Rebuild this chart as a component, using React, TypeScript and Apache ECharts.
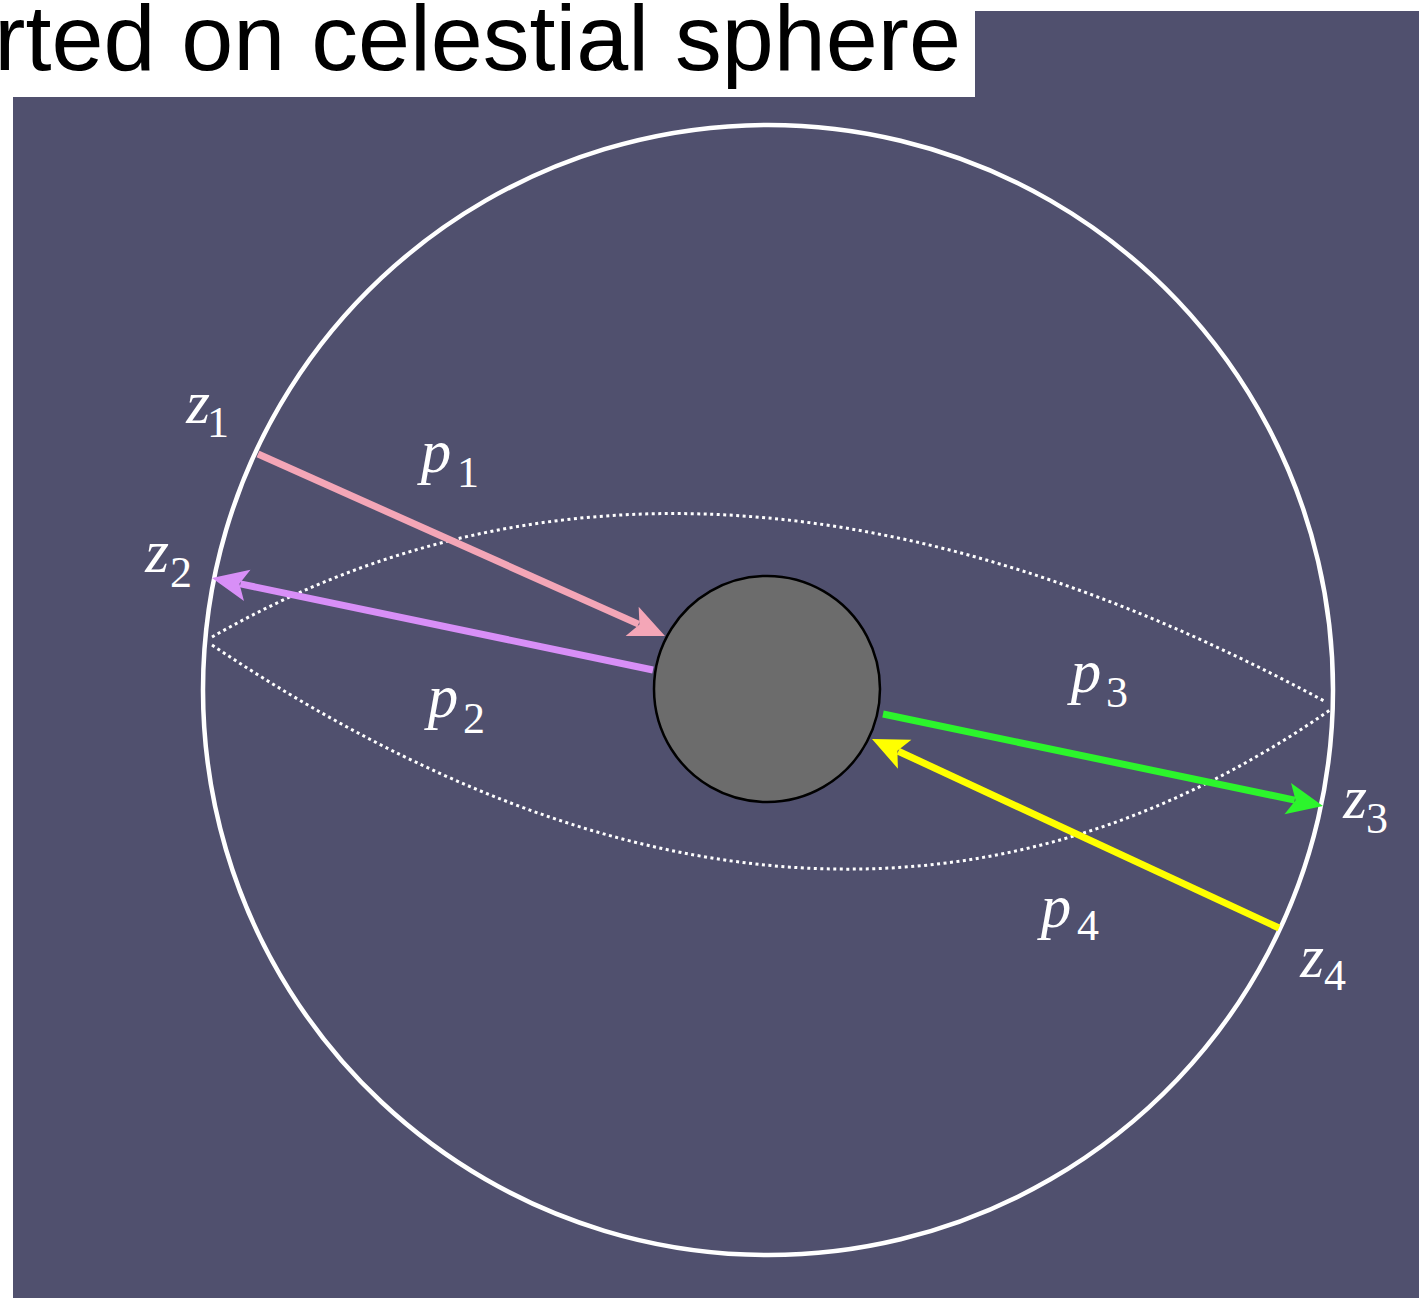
import React, { useEffect, useRef } from "react";
import * as echarts from "echarts";

const W = 1419;
const H = 1298;

// Geometry of the diagram, in image units (x right, y down)
const circleCenters = [[768, 690], [767, 689]]; // celestial sphere, Earth
const circleRadii = [565, 113];
const circleFills = ["none", "#6C6C6C"];
const circleStrokes = ["#FFFFFF", "#000000"];
const circleWidths = [4.5, 2.5];

// Dotted lens (quadratic curves): start, control, end
const arcStarts = [[212, 637], [212, 645]];
const arcControls = [[695, 361], [829, 1058]];
const arcEnds = [[1326, 702], [1330, 710]];

// Photon arrows p1..p4 (start -> tip)
const arrowStarts = [[258, 454], [653, 670], [883, 714], [1279, 928]];
const arrowTips = [[665, 636], [212, 578], [1323, 806], [872, 739]];
const arrowColors = ["#F4A6B7", "#D88FF7", "#2CF52C", "#FFFF00"];

// Labels: main glyph (italic) with subscript
const labelMain = ["z", "z", "z", "z", "p", "p", "p", "p"];
const labelSub = ["1", "2", "3", "4", "1", "2", "3", "4"];
const labelMainPos = [[198, 423], [157, 572], [1355, 818], [1312, 977], [436, 472], [443, 717], [1086, 692], [1056, 927]];
const labelSubPos = [[218, 437], [181, 587], [1377, 833], [1335, 990], [468, 487], [474, 733], [1117, 707], [1088, 940]];

const titleText = "rted on celestial sphere";

const MAIN_FS = 61;
const SUB_FS = 44;
const SERIF = "Liberation Serif";

export default function App() {
  const ref = useRef<HTMLDivElement>(null);
  useEffect(() => {
    if (!ref.current) return;
    const chart = echarts.init(ref.current, null, { renderer: "svg" });

    const option: any = {
      animation: false,
      backgroundColor: "#FFFFFF",
      grid: { left: 0, right: 0, top: 0, bottom: 0, containLabel: false },
      xAxis: { type: "value", min: 0, max: W, show: false },
      yAxis: { type: "value", min: 0, max: H, inverse: true, show: false },
      graphic: [
        {
          type: "rect",
          z: -10,
          shape: { x: 13, y: 11, width: W - 13, height: H - 11 },
          style: { fill: "#50506E" },
        },
        {
          type: "rect",
          z: 100,
          shape: { x: 0, y: 0, width: 975, height: 97 },
          style: { fill: "#FFFFFF" },
        },
        {
          type: "text",
          z: 101,
          x: 961,
          y: 37,
          style: {
            text: titleText,
            fill: "#000000",
            fontSize: 93.5,
            fontFamily: "Liberation Sans",
            textAlign: "right",
            textVerticalAlign: "middle",
          },
        },
      ],
      series: [
        {
          type: "custom",
          coordinateSystem: "cartesian2d",
          silent: true,
          z: 2,
          data: circleCenters.map((c, i) => [c[0], c[1], circleRadii[i]]),
          renderItem: (params: any, api: any) => {
            const i = params.dataIndex;
            const c = api.coord([api.value(0), api.value(1)]);
            const r = api.size([api.value(2), 0])[0];
            return {
              type: "circle",
              z2: i * 10,
              shape: { cx: c[0], cy: c[1], r },
              style: { fill: circleFills[i], stroke: circleStrokes[i], lineWidth: circleWidths[i] },
            };
          },
        },
        {
          type: "custom",
          coordinateSystem: "cartesian2d",
          silent: true,
          z: 1,
          data: arcStarts.map((s, i) => [s[0], s[1], arcControls[i][0], arcControls[i][1], arcEnds[i][0], arcEnds[i][1]]),
          renderItem: (params: any, api: any) => {
            const p0 = api.coord([api.value(0), api.value(1)]);
            const cp = api.coord([api.value(2), api.value(3)]);
            const p1 = api.coord([api.value(4), api.value(5)]);
            return {
              type: "bezierCurve",
              shape: { x1: p0[0], y1: p0[1], x2: p1[0], y2: p1[1], cpx1: cp[0], cpy1: cp[1] },
              style: { fill: "none", stroke: "#FFFFFF", lineWidth: 3, lineDash: [3, 3.5] },
            };
          },
        },
        {
          type: "custom",
          coordinateSystem: "cartesian2d",
          silent: true,
          z: 5,
          data: arrowStarts.map((s, i) => [s[0], s[1], arrowTips[i][0], arrowTips[i][1]]),
          renderItem: (params: any, api: any) => {
            const i = params.dataIndex;
            const a = api.coord([api.value(0), api.value(1)]);
            const b = api.coord([api.value(2), api.value(3)]);
            const dx = b[0] - a[0];
            const dy = b[1] - a[1];
            const len = Math.sqrt(dx * dx + dy * dy);
            const ux = dx / len;
            const uy = dy / len;
            const px = -uy;
            const py = ux;
            const L = 36;
            const HW = 16;
            const N = 8;
            const back = [b[0] - ux * L, b[1] - uy * L];
            const notch = [b[0] - ux * (L - N), b[1] - uy * (L - N)];
            const color = arrowColors[i];
            return {
              type: "group",
              children: [
                {
                  type: "line",
                  shape: { x1: a[0], y1: a[1], x2: notch[0] - ux * 1, y2: notch[1] - uy * 1 },
                  style: { stroke: color, lineWidth: 7, lineCap: "butt" },
                },
                {
                  type: "polygon",
                  shape: {
                    points: [
                      [b[0], b[1]],
                      [back[0] + px * HW, back[1] + py * HW],
                      [notch[0], notch[1]],
                      [back[0] - px * HW, back[1] - py * HW],
                    ],
                  },
                  style: { fill: color, stroke: "none" },
                },
              ],
            };
          },
        },
        {
          type: "custom",
          coordinateSystem: "cartesian2d",
          silent: true,
          z: 6,
          data: labelMainPos.map((m, i) => [m[0], m[1], labelSubPos[i][0], labelSubPos[i][1]]),
          renderItem: (params: any, api: any) => {
            const i = params.dataIndex;
            const m = api.coord([api.value(0), api.value(1)]);
            const s = api.coord([api.value(2), api.value(3)]);
            return {
              type: "group",
              children: [
                {
                  type: "text",
                  x: m[0],
                  y: m[1] - MAIN_FS * 0.3375,
                  style: {
                    text: labelMain[i],
                    fill: "#FFFFFF",
                    fontSize: MAIN_FS,
                    fontFamily: SERIF,
                    fontStyle: "italic",
                    textAlign: "center",
                    textVerticalAlign: "middle",
                  },
                },
                {
                  type: "text",
                  x: s[0],
                  y: s[1] - SUB_FS * 0.3375,
                  style: {
                    text: labelSub[i],
                    fill: "#FFFFFF",
                    fontSize: SUB_FS,
                    fontFamily: SERIF,
                    textAlign: "center",
                    textVerticalAlign: "middle",
                  },
                },
              ],
            };
          },
        },
      ],
    };

    chart.setOption(option);
    return () => {
      chart.dispose();
    };
  }, []);

  return (
    <div
      ref={ref}
      style={{ position: "absolute", left: 0, top: 0, width: W, height: H }}
    />
  );
}
